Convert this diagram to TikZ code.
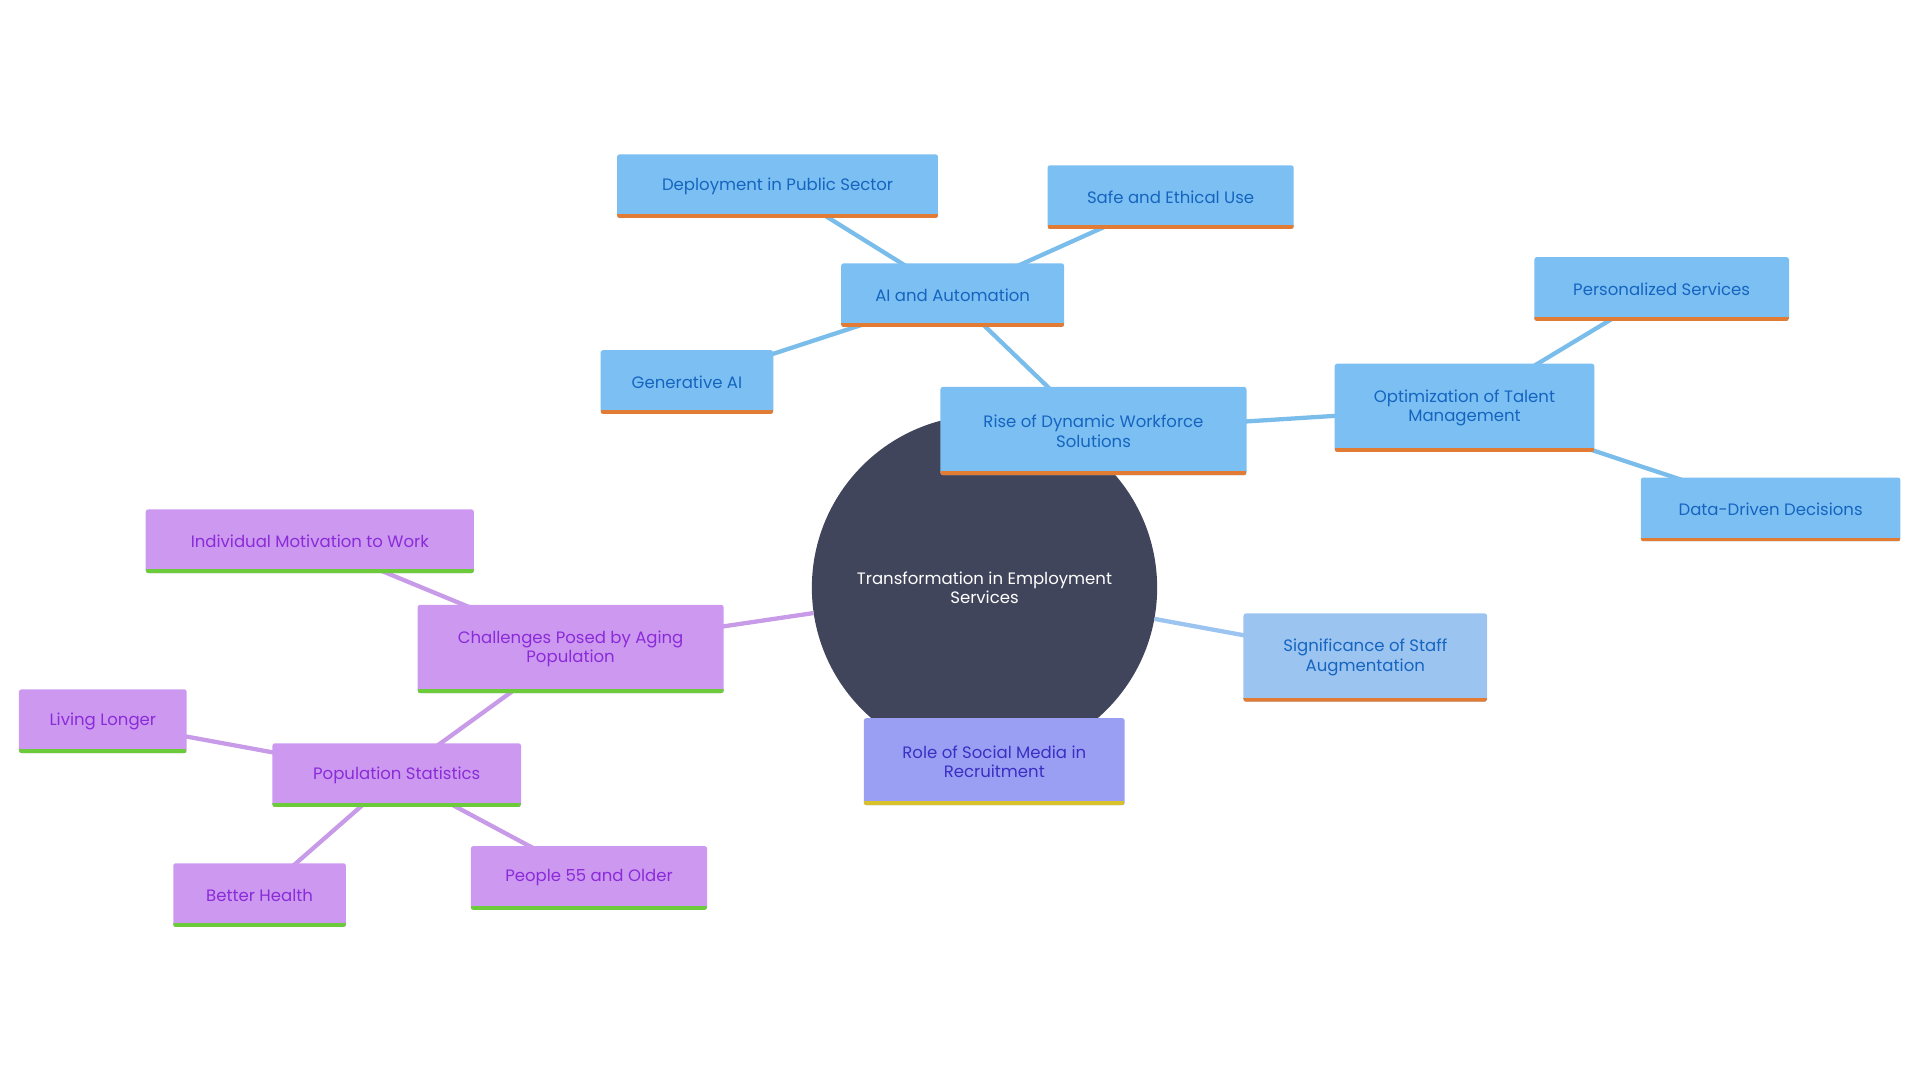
\documentclass[tikz,border=0pt]{standalone}
\usepackage{fontspec}
\setmainfont{Poppins}
\definecolor{bfill}{HTML}{7CBFF2}
\definecolor{btext}{HTML}{1565C0}
\definecolor{orng}{HTML}{E27B33}
\definecolor{pfill}{HTML}{CD98F0}
\definecolor{ptext}{HTML}{8A2BD9}
\definecolor{grn}{HTML}{6CCB3A}
\definecolor{sfill}{HTML}{9BC4F0}
\definecolor{rfill}{HTML}{9B9FF3}
\definecolor{rtext}{HTML}{3A2FC2}
\definecolor{ylw}{HTML}{D9C12B}
\definecolor{cfill}{HTML}{41455C}
\definecolor{bedge}{HTML}{7BBDEA}
\definecolor{pedge}{HTML}{C89BE9}
\begin{document}
\begin{tikzpicture}[x=1pt,y=-1pt,
 box/.style={rectangle,rounded corners=2pt,align=center,inner sep=0pt,font=\fontsize{13.5}{16}\selectfont,
   path picture={\draw[line width=6pt,#1] (path picture bounding box.south west)--(path picture bounding box.south east);}},
 bn/.style={box=orng,fill=bfill,text=btext},
 pn/.style={box=grn,fill=pfill,text=ptext},
 be/.style={draw=bedge,line width=3.5pt},
 pe/.style={draw=pedge,line width=3.5pt}]
\useasboundingbox (0,0) rectangle (1568,882);
\node[circle,fill=cfill,minimum size=282pt,text=white,align=center,font=\fontsize{13.5}{16}\selectfont] (c) at (804,480) {Transformation in Employment\\Services};
\coordinate (rise) at (893,352);
\coordinate (ai) at (778,241);
\coordinate (dep) at (635,152);
\coordinate (safe) at (956,161);
\coordinate (gen) at (561,312);
\coordinate (opt) at (1196,333);
\coordinate (pers) at (1357,236);
\coordinate (data) at (1446,416);
\coordinate (sig) at (1115,537);
\coordinate (role) at (812,622);
\coordinate (chal) at (466,530);
\coordinate (ind) at (253,442);
\coordinate (pop) at (324,633);
\coordinate (liv) at (84,589);
\coordinate (bet) at (212,731);
\coordinate (ppl) at (481,717);
\draw[be] (rise)--(ai) (ai)--(dep) (ai)--(safe) (ai)--(gen) (rise)--(opt) (opt)--(pers) (opt)--(data);
\draw[draw=sfill,line width=3.5pt] (c)--(sig);
\draw[pe] (c)--(chal) (chal)--(ind) (chal)--(pop) (pop)--(liv) (pop)--(bet) (pop)--(ppl);
\node[bn,minimum width=250pt,minimum height=72pt] (nrise) at (rise) {Rise of Dynamic Workforce\\Solutions};
\node[bn,minimum width=182pt,minimum height=52pt] (nai) at (ai) {AI and Automation};
\node[bn,minimum width=262pt,minimum height=52pt] (ndep) at (dep) {Deployment in Public Sector};
\node[bn,minimum width=201pt,minimum height=52pt] (nsafe) at (safe) {Safe and Ethical Use};
\node[bn,minimum width=141pt,minimum height=52pt] (ngen) at (gen) {Generative AI};
\node[bn,minimum width=212pt,minimum height=72pt] (nopt) at (opt) {Optimization of Talent\\Management};
\node[bn,minimum width=208pt,minimum height=52pt] (npers) at (pers) {Personalized Services};
\node[bn,minimum width=212pt,minimum height=52pt] (ndata) at (data) {Data-Driven Decisions};
\node[box=orng,fill=sfill,text=btext,minimum width=199pt,minimum height=72pt] (nsig) at (sig) {Significance of Staff\\Augmentation};
\node[box=ylw,fill=rfill,text=rtext,minimum width=213pt,minimum height=71pt] (nrole) at (role) {Role of Social Media in\\Recruitment};
\node[pn,minimum width=250pt,minimum height=72pt] (nchal) at (chal) {Challenges Posed by Aging\\Population};
\node[pn,minimum width=268pt,minimum height=52pt] (nind) at (ind) {Individual Motivation to Work};
\node[pn,minimum width=203pt,minimum height=52pt] (npop) at (pop) {Population Statistics};
\node[pn,minimum width=137pt,minimum height=52pt] (nliv) at (liv) {Living Longer};
\node[pn,minimum width=141pt,minimum height=52pt] (nbet) at (bet) {Better Health};
\node[pn,minimum width=193pt,minimum height=52pt] (nppl) at (ppl) {People 55 and Older};
\end{tikzpicture}
\end{document}
